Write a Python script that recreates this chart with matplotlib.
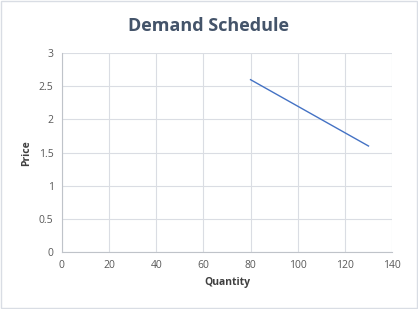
import matplotlib.pyplot as plt
from matplotlib.patches import Rectangle

# ---------- data ----------
quantity = [80, 90, 100, 110, 120, 130]
price = [2.6, 2.4, 2.2, 2.0, 1.8, 1.6]
x_ticks = [0, 20, 40, 60, 80, 100, 120, 140]
y_ticks = [0, 0.5, 1, 1.5, 2, 2.5, 3]
y_tick_labels = ['0', '0.5', '1', '1.5', '2', '2.5', '3']

# ---------- style ----------
plt.rcParams['font.family'] = ['Open Sans', 'DejaVu Sans']
fig = plt.figure(figsize=(4.18, 3.09), dpi=100)
fig.patch.set_facecolor('white')
fig.patches.append(Rectangle((0.002, 0.003), 0.995, 0.994, transform=fig.transFigure,
                             fill=False, edgecolor='#d9dde4', linewidth=1.0))

ax = fig.add_axes([0.148, 0.184, 0.790, 0.644])
ax.plot(quantity, price, color='#4472c4', linewidth=1.0)

ax.set_xlim(0, 140)
ax.set_ylim(0, 3)
ax.set_xticks(x_ticks)
ax.set_yticks(y_ticks)
ax.set_yticklabels(y_tick_labels)
ax.grid(True, color='#dadde3', linewidth=0.8)
ax.set_axisbelow(True)
for spine in ['top', 'right']:
    ax.spines[spine].set_visible(False)
for spine in ['left', 'bottom']:
    ax.spines[spine].set_color('#bfc3c9')
    ax.spines[spine].set_linewidth(0.8)
ax.tick_params(length=0, labelsize=7.5, labelcolor='#595959', pad=6)

ax.set_xlabel('Quantity', fontsize=7.5, fontweight='bold', color='#404040', labelpad=4)
ax.set_ylabel('Price', fontsize=7.5, fontweight='bold', color='#404040', labelpad=5)
fig.text(0.5, 0.915, 'Demand Schedule', ha='center', va='center',
         fontsize=13, fontweight='bold', color='#44546a')

plt.savefig('out.png', dpi=100, facecolor='white')
